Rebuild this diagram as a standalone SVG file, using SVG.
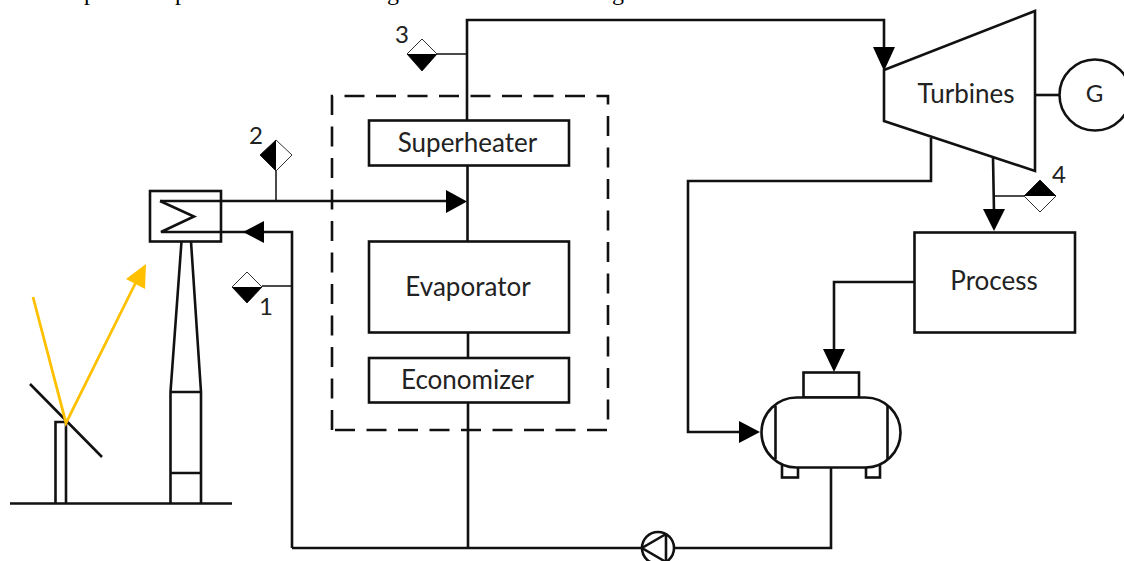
<svg xmlns="http://www.w3.org/2000/svg" width="1124" height="561" viewBox="0 0 1124 561">
<style>
.l{fill:none;stroke:#111;stroke-width:2.600;stroke-linejoin:miter}
.t{fill:none;stroke:#111;stroke-width:1.500}
.b{fill:#fff;stroke:#111;stroke-width:2.600}
.d{fill:#fff;stroke:#333;stroke-width:1}
.k{fill:#000;stroke:none}
.a{fill:#000;stroke:none}
.y{fill:none;stroke:#FFC000;stroke-width:2.800}
text{font-family:"Lato","Open Sans",sans-serif;fill:#222;font-size:26px;text-anchor:middle}
.n{font-size:24px}
.s{font-family:"Liberation Serif",serif;fill:#000;font-size:24px}
</style>
<rect width="1124" height="561" fill="#fff"/>
<g id="caption"><text class="s" x="90" y="0">p</text><text class="s" x="181" y="0">p</text><text class="s" x="393" y="0">g</text><text class="s" x="618" y="0">g</text></g>
<g id="connectors">
<path class="l" d="M467 120V20H884V50"/>
<path class="l" d="M467.500 166V201M467.500 241V201M468 333V358M468 402V548M292 548H642M675 548H831V468"/>
<path class="l" d="M160 201H448"/>
<path class="l" d="M160 201L194 216.500L161 232H262M262 232H292V548"/>
<path class="l" d="M1035 95H1059"/>
<path class="l" d="M931 138V181H688V432H742"/>
<path class="l" d="M993 157L994 212"/>
<path class="l" d="M914 282H834V352"/>
<path class="t" d="M276 171V201M262 286H292M437 54H467M994 196H1024"/>
<path class="a" d="M467 201.500L446 190V213Z"/>
<path class="a" d="M243 232L264 221V243Z"/>
<path class="a" d="M884 71L873 47H895Z"/>
<path class="a" d="M994 231L983 209H1005Z"/>
<path class="a" d="M834 372L823 349H845Z"/>
<path class="a" d="M760 432L739 421V443Z"/>
<path class="l" stroke-dasharray="20 11.500" d="M332 430V96H608V430H332"/>
</g>
<g id="receiver-tower">
<rect class="l" x="150" y="191" width="71" height="50.500"/>
<path class="l" d="M181.500 241.500L170.500 392V503M191 241.500L201 392V503M170.500 392H201M170.500 473H201"/>
</g>
<g id="ground-heliostat">
<path class="l" d="M10 503.500H232M55.500 503V422H66V503M30 384L102 457"/>
</g>
<g id="sunbeam">
<path class="y" d="M33 297L66 423L136 282"/>
<path d="M146 264L126 279L145 289Z" fill="#FFC000"/>
</g>
<g id="sensor-1"><path class="d" d="M247 272L262 287L247 303L232 287Z"/><path class="k" d="M232 287H262L247 303Z"/><text class="n" x="266" y="315">1</text></g>
<g id="sensor-2"><path class="d" d="M276 140L292 155L276 171L260 155Z"/><path class="k" d="M276 140V171L260 155Z"/><text class="n" x="256" y="144">2</text></g>
<g id="sensor-3"><path class="d" d="M422 39L437 54L422 71L407 54Z"/><path class="k" d="M407 54H437L422 71Z"/><text class="n" x="402" y="43">3</text></g>
<g id="sensor-4"><path class="d" d="M1040 180L1056 196L1040 212L1024 196Z"/><path class="k" d="M1024 196H1056L1040 180Z"/><text class="n" x="1059" y="183">4</text></g>
<g id="superheater"><rect class="b" x="369" y="120.500" width="200" height="45"/><text x="467.500" y="152">Superheater</text></g>
<g id="evaporator"><rect class="b" x="369" y="241.500" width="200" height="91"/><text x="468" y="296">Evaporator</text></g>
<g id="economizer"><rect class="b" x="369" y="358" width="200" height="44.500"/><text x="467.500" y="389">Economizer</text></g>
<g id="turbines"><path class="b" d="M884 70L1035 11V171L884 121Z"/><text x="966" y="103">Turbines</text></g>
<g id="generator"><circle class="b" cx="1095" cy="95" r="35.500"/><text class="n" x="1094.500" y="102">G</text></g>
<g id="process"><rect class="b" x="914.500" y="232.500" width="160.500" height="100"/><text x="994" y="290">Process</text></g>
<g id="tank">
<rect class="b" x="803.500" y="372.500" width="55.500" height="25"/>
<rect class="b" x="782" y="464" width="16" height="13.500"/>
<rect class="b" x="866" y="464" width="14" height="13.500"/>
<rect class="b" x="761.500" y="397.500" width="139" height="70" rx="35" ry="35"/>
<path class="l" d="M775.500 406V459M887.500 406V459"/>
</g>
<g id="pump"><circle class="b" cx="658" cy="548" r="16"/><path class="l" d="M666 534V562M666 534L642 548L666 562"/></g>
</svg>
